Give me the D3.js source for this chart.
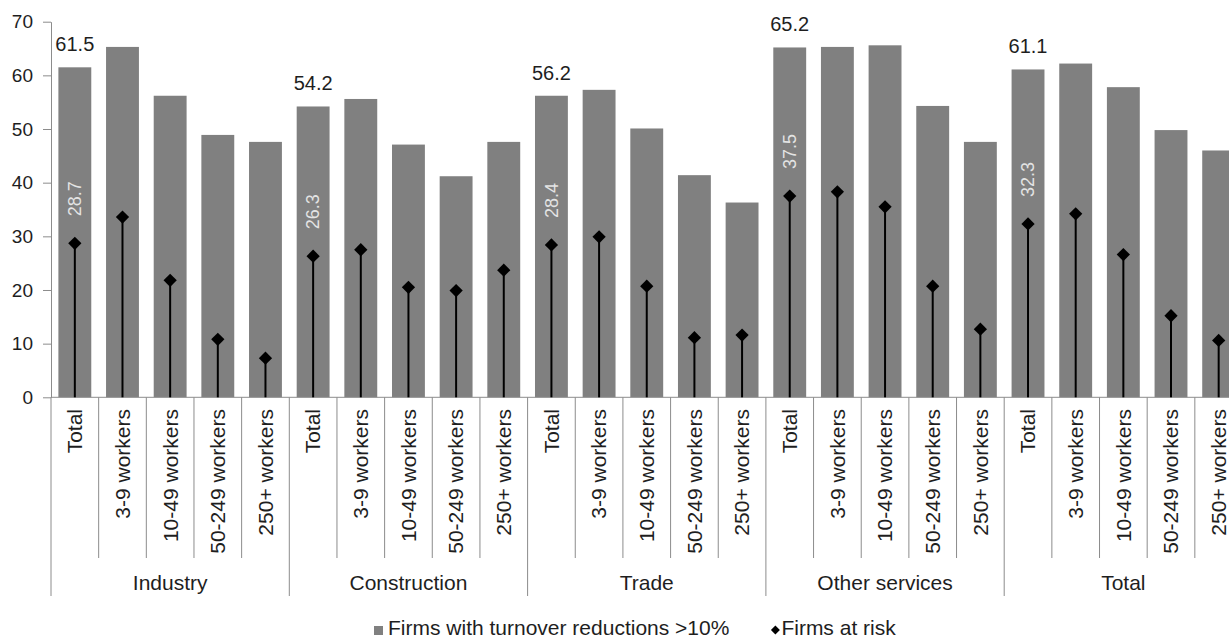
<!DOCTYPE html>
<html>
<head>
<meta charset="utf-8">
<script src="https://cdn.jsdelivr.net/npm/d3@7"></script>
<style>
  html, body { margin: 0; padding: 0; background: #fff; }
  svg { display: block; }
  text { font-family: "Liberation Sans", Arial, sans-serif; }
</style>
</head>
<body>
<svg id="chart" width="1229" height="639"></svg>
<script>
// ---- data ----
const groups = ["Industry", "Construction", "Trade", "Other services", "Total"];
const sizes = ["Total", "3-9 workers", "10-49 workers", "50-249 workers", "250+ workers"];
const turnoverReduction = [
  61.5, 65.3, 56.2, 48.9, 47.6,
  54.2, 55.6, 47.1, 41.2, 47.6,
  56.2, 57.3, 50.1, 41.4, 36.3,
  65.2, 65.3, 65.6, 54.3, 47.6,
  61.1, 62.2, 57.8, 49.8, 46.0
];
const firmsAtRisk = [
  28.7, 33.6, 21.8, 10.8, 7.3,
  26.3, 27.5, 20.5, 19.9, 23.7,
  28.4, 29.9, 20.7, 11.1, 11.6,
  37.5, 38.3, 35.5, 20.7, 12.7,
  32.3, 34.2, 26.6, 15.2, 10.6
];
const yTicks = [0, 10, 20, 30, 40, 50, 60, 70];
const seriesNames = ["Firms with turnover reductions >10%", "Firms at risk"];

(function () {
const rows = [];
groups.forEach((g, gi) => {
  sizes.forEach((s, si) => {
    const i = gi * sizes.length + si;
    rows.push({ key: g + "|" + s, group: g, size: s, si, bar: turnoverReduction[i], risk: firmsAtRisk[i] });
  });
});

const svg = d3.select("#chart");
const mLeft = 51, mTop = 21.7, mBottom = 397.3;
const step = 47.66;

const x = d3.scaleBand()
  .domain(rows.map(d => d.key))
  .range([mLeft, mLeft + step * rows.length])
  .paddingInner(0.31)
  .paddingOuter(0.155);

const y = d3.scaleLinear().domain([0, 70]).range([mBottom, mTop]);

const axisColor = "#8c8c8c";
const textColor = "#1e1e1e";

// bars
svg.append("g").selectAll("rect").data(rows).join("rect")
  .attr("x", d => x(d.key))
  .attr("y", d => y(d.bar))
  .attr("width", x.bandwidth())
  .attr("height", d => y(0) - y(d.bar))
  .attr("fill", "#808080");

// y axis
const yAxis = svg.append("g")
  .attr("transform", `translate(${mLeft},0)`)
  .call(d3.axisLeft(y).tickValues(yTicks).tickSize(8).tickSizeOuter(0).tickPadding(10));
yAxis.select(".domain").attr("stroke", axisColor);
yAxis.selectAll(".tick line").attr("stroke", axisColor);
yAxis.selectAll(".tick text")
  .attr("font-size", 19).attr("fill", textColor)
  .attr("font-family", "'Liberation Sans', Arial, sans-serif");

// x axis baseline
const xStart = x.range()[0], xEnd = x.range()[1];
svg.append("line")
  .attr("x1", xStart).attr("x2", xEnd)
  .attr("y1", y(0)).attr("y2", y(0))
  .attr("stroke", axisColor);

// category separators
const gap = (x.step() - x.bandwidth()) / 2;
const sepY1 = y(0), catSepY2 = 558, grpSepY2 = 596;
const boundaries = rows.map(d => ({ x: x(d.key) - gap, first: d.si === 0 }));
boundaries.push({ x: x(rows[rows.length - 1].key) + x.bandwidth() + gap, first: true });
svg.append("g").selectAll("line").data(boundaries).join("line")
  .attr("x1", d => d.x).attr("x2", d => d.x)
  .attr("y1", sepY1)
  .attr("y2", d => d.first ? grpSepY2 : catSepY2)
  .attr("stroke", axisColor);

// category labels
svg.append("g").selectAll("text").data(rows).join("text")
  .attr("transform", d => `translate(${x(d.key) + x.bandwidth() / 2},409) rotate(-90)`)
  .attr("text-anchor", "end")
  .attr("dy", "0.35em")
  .attr("font-size", 21)
  .attr("fill", textColor)
  .text(d => d.size);

// group labels
svg.append("g").selectAll("text").data(groups).join("text")
  .attr("x", g => {
    const ks = rows.filter(r => r.group === g);
    const a = x(ks[0].key) - gap, b = x(ks[ks.length - 1].key) + x.bandwidth() + gap;
    return (a + b) / 2;
  })
  .attr("y", 590)
  .attr("text-anchor", "middle")
  .attr("font-size", 21)
  .attr("fill", textColor)
  .text(g => g);

// stems
svg.append("g").selectAll("line").data(rows).join("line")
  .attr("x1", d => x(d.key) + x.bandwidth() / 2)
  .attr("x2", d => x(d.key) + x.bandwidth() / 2)
  .attr("y1", y(0))
  .attr("y2", d => y(d.risk))
  .attr("stroke", "#000")
  .attr("stroke-width", 2);

// diamonds
const diamond = d3.symbol().type(d3.symbolSquare).size(88);
svg.append("g").selectAll("path").data(rows).join("path")
  .attr("d", diamond)
  .attr("transform", d => `translate(${x(d.key) + x.bandwidth() / 2},${y(d.risk)}) rotate(45)`)
  .attr("fill", "#000");

// labels on "Total" categories
const labelled = rows.filter(d => d.si === 0);
svg.append("g").selectAll("text").data(labelled).join("text")
  .attr("x", d => x(d.key) + x.bandwidth() / 2)
  .attr("y", d => y(d.bar) - 16)
  .attr("text-anchor", "middle")
  .attr("font-size", 20)
  .attr("fill", textColor)
  .text(d => d.bar.toFixed(1));

svg.append("g").selectAll("text").data(labelled).join("text")
  .attr("transform", d => `translate(${x(d.key) + x.bandwidth() / 2},${y(d.risk) - 27}) rotate(-90)`)
  .attr("text-anchor", "start")
  .attr("dy", "0.35em")
  .attr("font-size", 18)
  .attr("fill", "#e4e4e4")
  .text(d => d.risk.toFixed(1));

// legend
const lg = svg.append("g");
const ly = 635;
lg.append("rect").attr("x", 374).attr("y", ly - 9).attr("width", 9).attr("height", 9).attr("fill", "#808080");
const t1 = lg.append("text").attr("x", 388).attr("y", ly).attr("font-size", 21).attr("fill", textColor).text(seriesNames[0]);
const t1End = 388 + t1.node().getComputedTextLength();
const dx = t1End + 46;
lg.append("path").attr("d", d3.symbol().type(d3.symbolSquare).size(40))
  .attr("transform", `translate(${dx},${ly - 5}) rotate(45)`).attr("fill", "#000");
lg.append("text").attr("x", dx + 6).attr("y", ly).attr("font-size", 21).attr("fill", textColor).text(seriesNames[1]);
})();
</script>
</body>
</html>
